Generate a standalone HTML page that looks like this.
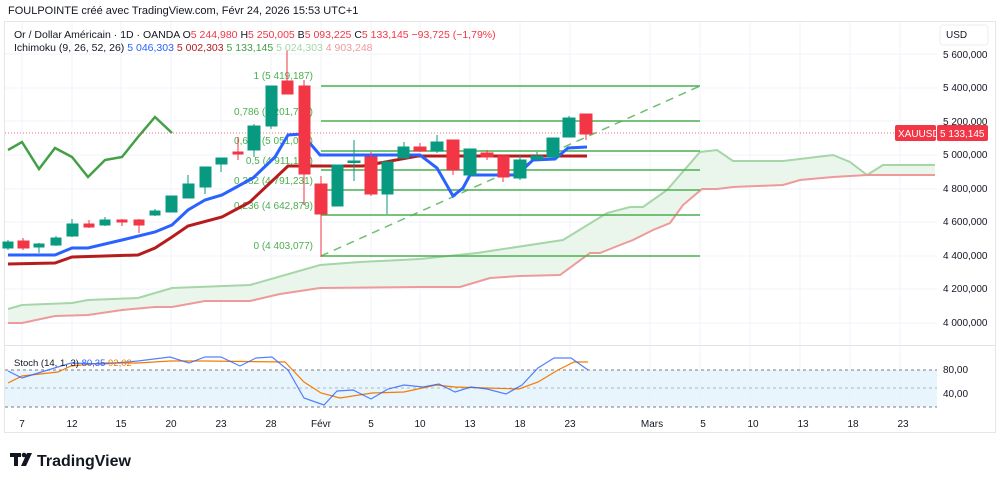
<!DOCTYPE html>
<html><head><meta charset="utf-8"><style>
body{margin:0;background:#fff;width:1000px;height:483px;overflow:hidden;font-family:"Liberation Sans",sans-serif}
</style></head><body>
<svg width="1000" height="483" xmlns="http://www.w3.org/2000/svg" font-family="Liberation Sans, sans-serif">
<text x="8" y="14" font-size="11" fill="#131722">FOULPOINTE créé avec TradingView.com, Févr 24, 2026 15:53 UTC+1</text>
<rect x="4.5" y="21.5" width="991" height="411" fill="#fff" stroke="#e6e6e6"/>
<g stroke="#f0f3fa" stroke-width="1">
<line x1="22" y1="22" x2="22" y2="410"/><line x1="72" y1="22" x2="72" y2="410"/><line x1="121" y1="22" x2="121" y2="410"/><line x1="171" y1="22" x2="171" y2="410"/><line x1="221" y1="22" x2="221" y2="410"/><line x1="271" y1="22" x2="271" y2="410"/><line x1="321" y1="22" x2="321" y2="410"/><line x1="371" y1="22" x2="371" y2="410"/><line x1="420" y1="22" x2="420" y2="410"/><line x1="470" y1="22" x2="470" y2="410"/><line x1="520" y1="22" x2="520" y2="410"/><line x1="570" y1="22" x2="570" y2="410"/><line x1="650" y1="22" x2="650" y2="410"/><line x1="700" y1="22" x2="700" y2="410"/><line x1="750" y1="22" x2="750" y2="410"/><line x1="800" y1="22" x2="800" y2="410"/><line x1="850" y1="22" x2="850" y2="410"/><line x1="900" y1="22" x2="900" y2="410"/>
<line x1="5" y1="54" x2="937" y2="54"/><line x1="5" y1="88" x2="937" y2="88"/><line x1="5" y1="121" x2="937" y2="121"/><line x1="5" y1="155" x2="937" y2="155"/><line x1="5" y1="189" x2="937" y2="189"/><line x1="5" y1="222" x2="937" y2="222"/><line x1="5" y1="256" x2="937" y2="256"/><line x1="5" y1="289" x2="937" y2="289"/><line x1="5" y1="323" x2="937" y2="323"/>
</g>
<line x1="5" y1="345.5" x2="995" y2="345.5" stroke="#e0e3eb"/>
<polygon fill="#e8f5e9" opacity="0.9" points="8,309 22,305 72,303 88,300 138,298 172,288 250,285 320,265 360,262 420,259 477,253 563,240 607,213 630,207 643,207 667,190 700,152 717,150 733,161 783,161 833,155 850,162 867,175 883,165 935,165 935,175 867,175 833,177 800,180 783,185 733,187 717,189 702,189 683,205 670,223 653,230 633,240 620,245 600,253 590,253 560,275 520,276 490,278 460,287 420,287 320,288 280,294 250,301 205,301 172,307 155,307 122,310 88,315 55,316 22,323 8,323"/>
<polyline fill="none" stroke="#a5d6a7" stroke-width="2" points="8,309 22,305 72,303 88,300 138,298 172,288 250,285 320,265 360,262 420,259 477,253 563,240 607,213 630,207 643,207 667,190 700,152 717,150 733,161 783,161 833,155 850,162 867,175 883,165 935,165"/>
<polyline fill="none" stroke="#ef9a9a" stroke-width="2" points="8,323 22,323 55,316 88,315 122,310 155,307 172,307 205,301 250,301 280,294 320,288 420,287 460,287 490,278 520,276 560,275 590,253 600,253 620,245 633,240 653,230 670,223 683,205 702,189 717,189 733,187 783,185 800,180 833,177 867,175 935,175"/>
<g stroke="#4caf50" stroke-width="1.5">
<line x1="321" y1="86" x2="700" y2="86"/><line x1="321" y1="121" x2="700" y2="121"/><line x1="321" y1="151" x2="700" y2="151"/><line x1="321" y1="170" x2="700" y2="170"/><line x1="321" y1="190" x2="700" y2="190"/><line x1="321" y1="215" x2="700" y2="215"/><line x1="321" y1="256" x2="700" y2="256"/>
</g>
<line x1="321" y1="256" x2="700" y2="86" stroke="#4caf50" stroke-width="1.5" stroke-dasharray="8,6" opacity="0.8"/>
<g font-size="10" fill="#4caf50" text-anchor="end">
<text x="313" y="79">1 (5 419,187)</text><text x="313" y="115">0,786 (5 201,728)</text><text x="313" y="144">0,618 (5 051,013)</text><text x="313" y="164">0,5 (4 911,132)</text><text x="313" y="184">0,382 (4 791,231)</text><text x="313" y="209">0,236 (4 642,879)</text><text x="313" y="249">0 (4 403,077)</text>
</g>
<polyline fill="none" stroke="#43a047" stroke-width="2.5" points="8,150 22,142 39,169 55,148 72,157 88,177 105,160 122,157 138,137 155,117 172,133"/>
<polyline fill="none" stroke="#b71c1c" stroke-width="3" points="8,264 55,263 72,257 138,255 155,248 172,237 188,226 222,217 250,202 252,200 288,166 310,166 363,166 418,156 587,156"/>
<polyline fill="none" stroke="#2962ff" stroke-width="3" points="8,255 55,255 72,248 88,248 122,240 155,232 172,225 188,210 205,200 222,195 253,178 275,157 288,135 302,134 320,155 390,155 420,155 437,168 453,196 463,188 470,175 517,175 533,160 555,159 568,148 587,147"/>
<line x1="5" y1="133" x2="937" y2="133" stroke="#f23645" stroke-dasharray="1,2" opacity="0.7"/>
<g stroke-width="1">
<g fill="#089981" stroke="#089981">
<line x1="8" y1="240" x2="8" y2="250"/><rect x="3" y="242" width="10" height="6"/>
<line x1="39" y1="243" x2="39" y2="253"/><rect x="34" y="244" width="10" height="3"/>
<line x1="56" y1="236" x2="56" y2="246"/><rect x="51" y="238" width="10" height="7"/>
<line x1="72" y1="219" x2="72" y2="237"/><rect x="67" y="224" width="11" height="12"/>
<line x1="105" y1="217" x2="105" y2="226"/><rect x="100" y="220" width="10" height="5"/>
<line x1="155" y1="209" x2="155" y2="216"/><rect x="150" y="211" width="10" height="4"/>
<line x1="172" y1="196" x2="172" y2="212"/><rect x="166" y="196" width="11" height="16"/>
<line x1="188" y1="175" x2="188" y2="198"/><rect x="183" y="184" width="11" height="14"/>
<line x1="205" y1="167" x2="205" y2="194"/><rect x="200" y="167" width="11" height="20"/>
<line x1="221" y1="158" x2="221" y2="172"/><rect x="216" y="158" width="11" height="6"/>
<line x1="254" y1="124" x2="254" y2="157"/><rect x="248" y="126" width="12" height="24"/>
<line x1="271" y1="86" x2="271" y2="129"/><rect x="266" y="86" width="11" height="40"/>
<line x1="337" y1="165" x2="337" y2="206"/><rect x="332" y="165" width="11" height="41"/>
<line x1="354" y1="140" x2="354" y2="181"/><rect x="348" y="161" width="12" height="1.5"/>
<line x1="387" y1="160" x2="387" y2="214"/><rect x="382" y="162" width="11" height="32"/>
<line x1="404" y1="142" x2="404" y2="158"/><rect x="398" y="147" width="11" height="11"/>
<line x1="437" y1="135" x2="437" y2="153"/><rect x="431" y="142" width="12" height="9"/>
<line x1="470" y1="149" x2="470" y2="175"/><rect x="464" y="149" width="12" height="26"/>
<line x1="520" y1="155" x2="520" y2="180"/><rect x="514" y="160" width="12" height="18"/>
<line x1="537" y1="152" x2="537" y2="160"/><rect x="531" y="156" width="12" height="3"/>
<line x1="553" y1="138" x2="553" y2="157"/><rect x="547" y="138" width="12" height="19"/>
<line x1="569" y1="116" x2="569" y2="137"/><rect x="563" y="118" width="12" height="19"/>
</g>
<g fill="#f23645" stroke="#f23645">
<line x1="23" y1="238" x2="23" y2="250"/><rect x="18" y="241" width="11" height="7"/>
<line x1="89" y1="220" x2="89" y2="228"/><rect x="84" y="224" width="10" height="3"/>
<line x1="122" y1="219" x2="122" y2="226"/><rect x="117" y="220" width="10" height="2"/>
<line x1="139" y1="219" x2="139" y2="233"/><rect x="134" y="220" width="10" height="5"/>
<line x1="238" y1="137" x2="238" y2="160"/><rect x="233" y="152" width="10" height="2"/>
<line x1="287" y1="50" x2="287" y2="94"/><rect x="282" y="81" width="11" height="13"/>
<line x1="304" y1="80" x2="304" y2="205"/><rect x="299" y="86" width="11" height="88"/>
<line x1="321" y1="176" x2="321" y2="257"/><rect x="315" y="184" width="12" height="30"/>
<line x1="371" y1="152" x2="371" y2="196"/><rect x="365" y="157" width="12" height="37"/>
<line x1="420" y1="143" x2="420" y2="152"/><rect x="414" y="147" width="12" height="4"/>
<line x1="453" y1="140" x2="453" y2="175"/><rect x="447" y="140" width="12" height="30"/>
<line x1="487" y1="150" x2="487" y2="160"/><rect x="481" y="153" width="12" height="4"/>
<line x1="503" y1="155" x2="503" y2="182"/><rect x="498" y="156" width="11" height="21"/>
<line x1="586" y1="114" x2="586" y2="140"/><rect x="580" y="114" width="12" height="20"/>
</g>
</g>
<g font-size="10.5">
<text x="14" y="38" fill="#131722">Or / Dollar Américain · 1D · OANDA <tspan fill="#131722">O</tspan><tspan fill="#f23645">5 244,980</tspan> <tspan fill="#131722">H</tspan><tspan fill="#f23645">5 250,005</tspan> <tspan fill="#131722">B</tspan><tspan fill="#f23645">5 093,225</tspan> <tspan fill="#131722">C</tspan><tspan fill="#f23645">5 133,145 −93,725 (−1,79%)</tspan></text>
<text x="14" y="51" fill="#131722">Ichimoku (9, 26, 52, 26) <tspan fill="#2962ff">5 046,303</tspan> <tspan fill="#b71c1c">5 002,303</tspan> <tspan fill="#43a047">5 133,145</tspan> <tspan fill="#a5d6a7">5 024,303</tspan> <tspan fill="#ef9a9a">4 903,248</tspan></text>
</g>
<rect x="940" y="25" width="48" height="20" rx="3" fill="#fff" stroke="#eee"/>
<text x="946" y="38" font-size="10" fill="#131722">USD</text>
<g font-size="10" fill="#131722">
<text x="943" y="58">5 600,000</text><text x="943" y="91">5 400,000</text><text x="943" y="125">5 200,000</text><text x="943" y="158">5 000,000</text><text x="943" y="192">4 800,000</text><text x="943" y="225">4 600,000</text><text x="943" y="259">4 400,000</text><text x="943" y="292">4 200,000</text><text x="943" y="326">4 000,000</text>
<text x="943" y="373">80,00</text><text x="943" y="397">40,00</text>
</g>
<rect x="895" y="125" width="41" height="16" rx="2" fill="#f23645"/>
<text x="898" y="137" font-size="10" fill="#fff">XAUUSD</text>
<rect x="937" y="125" width="51" height="16" rx="2" fill="#f23645"/>
<text x="940" y="137" font-size="10" fill="#fff">5 133,145</text>
<rect x="5" y="370" width="932" height="37" fill="#e3f2fd" opacity="0.8"/>
<g stroke="#787b86" stroke-dasharray="3,3" stroke-width="1">
<line x1="5" y1="370" x2="937" y2="370"/><line x1="5" y1="388" x2="937" y2="388" opacity="0.5"/><line x1="5" y1="407" x2="937" y2="407"/>
</g>
<polyline fill="none" stroke="#f57c00" stroke-width="1.2" points="8,383 22,376 58,372 71,366 103,363 138,363 170,361 205,361 285,362 304,382 321,393 340,398 372,393 404,392 436,385 455,387 487,388 519,389 538,382 558,370 574,362 588,362"/>
<polyline fill="none" stroke="#2962ff" stroke-width="1.2" opacity="0.8" points="8,371 22,378 48,370 71,363 103,364 138,361 170,357 189,363 205,357 221,357 240,366 256,358 272,357 288,370 304,398 324,405 337,391 353,390 371,399 388,389 404,385 423,387 439,384 455,392 471,387 487,389 506,394 522,385 538,368 554,358 571,358 588,370"/>
<text x="14" y="366" font-size="9.5" fill="#131722">Stoch (14, 1, 3) <tspan fill="#2962ff">80,35</tspan> <tspan fill="#f57c00">92,02</tspan></text>
<g font-size="10" fill="#131722" text-anchor="middle">
<text x="22" y="427">7</text><text x="72" y="427">12</text><text x="121" y="427">15</text><text x="171" y="427">20</text><text x="221" y="427">23</text><text x="271" y="427">28</text><text x="321" y="427">Févr</text><text x="371" y="427">5</text><text x="420" y="427">10</text><text x="470" y="427">13</text><text x="520" y="427">18</text><text x="570" y="427">23</text><text x="652" y="427">Mars</text><text x="703" y="427">5</text><text x="753" y="427">10</text><text x="803" y="427">13</text><text x="853" y="427">18</text><text x="903" y="427">23</text>
</g>
<rect x="10" y="453" width="11" height="4" fill="#131722"/><rect x="14" y="453" width="4" height="13" fill="#131722"/><circle cx="24" cy="455" r="2.3" fill="#131722"/><polygon points="27,453 32,453 26,466 21,466" fill="#131722"/>
<text x="37" y="466" font-size="16" font-weight="bold" fill="#131722">TradingView</text>
</svg>
</body></html>
